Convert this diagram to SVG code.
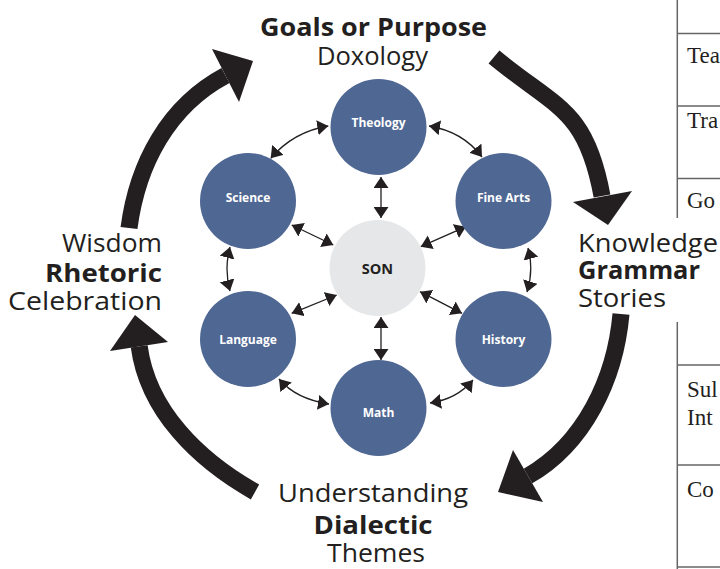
<svg xmlns="http://www.w3.org/2000/svg" width="720" height="569" viewBox="0 0 720 569">
<style>
.node{fill:#4f6793;}
.son{fill:#e6e7e8;}
.lbl{font-family:"Open Sans","Noto Sans",sans-serif;font-size:12px;font-weight:bold;fill:#ffffff;text-anchor:middle;}
.sonl{font-family:"Open Sans","Noto Sans",sans-serif;font-size:14.5px;font-weight:bold;fill:#231f20;text-anchor:middle;}
.conn{fill:none;stroke:#231f20;stroke-width:1.3;marker-start:url(#ah);marker-end:url(#ah);}
.big{fill:none;stroke:#231f20;stroke-width:17;}
.bighead{fill:#231f20;}
.t{font-family:"Open Sans","Noto Sans",sans-serif;font-size:25.5px;fill:#231f20;}
.b{font-weight:bold;}
.tab{stroke:#666666;stroke-width:1.5;fill:none;}
.tt{font-family:"Liberation Serif","Times New Roman",serif;font-size:23px;fill:#231f20;}
</style>
<defs>
<marker id="ah" viewBox="0 0 11 15" refX="11" refY="7.5" markerWidth="11" markerHeight="15" markerUnits="userSpaceOnUse" orient="auto-start-reverse">
<path d="M0,0 L11,7.5 L0,15 Z" fill="#231f20"/>
</marker>
</defs>
<rect width="720" height="569" fill="#ffffff"/>

<g id="table">
<path class="tab" d="M677.3,0 V218 M677.3,322 V569 M677.3,33.5 H720 M677.3,106 H720 M677.3,178.5 H720 M677.3,365 H720 M677.3,465 H720 M677.3,567 H720"/>
<text class="tt" x="687" y="63">Tea</text>
<text class="tt" x="687" y="128">Tra</text>
<text class="tt" x="687" y="208">Go</text>
<text class="tt" x="687" y="397">Sul</text>
<text class="tt" x="687" y="425">Int</text>
<text class="tt" x="687" y="497">Co</text>
</g>

<g id="cycle-arrows">
<path class="big" d="M494,57 C555.6,108.2 585.8,107.8 602,196"/>
<polygon class="bighead" points="573,202 632,191 608,225"/>
<path class="big" d="M621,314 C615.2,378.7 584.6,443.5 528,476"/>
<polygon class="bighead" points="513,450 543,502 498,492"/>
<path class="big" d="M255,492 C198.4,460.1 147.7,410.7 139.2,346.3"/>
<polygon class="bighead" points="110,351 168,342 135,315"/>
<path class="big" d="M129,228 C137.5,163.6 168.3,106.1 225.5,75.5"/>
<polygon class="bighead" points="212,49 239,102 253,61"/>
</g>

<g id="stage-labels">
<text class="t b" x="260" y="36" font-size="27" textLength="227" lengthAdjust="spacingAndGlyphs">Goals or Purpose</text>
<text class="t" x="317" y="65" textLength="111" lengthAdjust="spacingAndGlyphs">Doxology</text>
<text class="t" x="578" y="252" textLength="140" lengthAdjust="spacingAndGlyphs">Knowledge</text>
<text class="t b" x="578" y="279" textLength="122" lengthAdjust="spacingAndGlyphs">Grammar</text>
<text class="t" x="578" y="307" textLength="88" lengthAdjust="spacingAndGlyphs">Stories</text>
<text class="t" x="278" y="502" textLength="190" lengthAdjust="spacingAndGlyphs">Understanding</text>
<text class="t b" x="313.5" y="534" textLength="119" lengthAdjust="spacingAndGlyphs">Dialectic</text>
<text class="t" x="327" y="562" textLength="98" lengthAdjust="spacingAndGlyphs">Themes</text>
<text class="t" x="62" y="252" textLength="100" lengthAdjust="spacingAndGlyphs">Wisdom</text>
<text class="t b" x="45" y="281.5" textLength="117" lengthAdjust="spacingAndGlyphs">Rhetoric</text>
<text class="t" x="8" y="310" textLength="154" lengthAdjust="spacingAndGlyphs">Celebration</text>
</g>

<g id="connectors">
<path class="conn" d="M381,177 V218"/>
<path class="conn" d="M381,317 V360"/>
<path class="conn" d="M270.7,158.3 Q293.6,131.6 328.3,126"/>
<path class="conn" d="M429,126 Q463,131.6 482,157"/>
<path class="conn" d="M291.7,225 L333.3,245"/>
<path class="conn" d="M420.7,246.7 L466,226.7"/>
<path class="conn" d="M230,247 Q224,269 230,291"/>
<path class="conn" d="M528,248 Q534,270 527,292"/>
<path class="conn" d="M291.7,313.3 L336.7,295"/>
<path class="conn" d="M420,291.7 L462,313.3"/>
<path class="conn" d="M279,379 Q296,399 329,404"/>
<path class="conn" d="M430,403 Q457,399 473,380"/>
</g>

<g id="node-theology"><circle class="node" cx="378.5" cy="127" r="48"/><text class="lbl" x="378.5" y="127">Theology</text></g>
<g id="node-science"><circle class="node" cx="248" cy="201" r="48"/><text class="lbl" x="248" y="202">Science</text></g>
<g id="node-finearts"><circle class="node" cx="503.5" cy="201" r="48"/><text class="lbl" x="503.5" y="202">Fine Arts</text></g>
<g id="node-son"><circle class="son" cx="377.5" cy="268" r="48"/><text class="sonl" x="377.5" y="273.5">SON</text></g>
<g id="node-language"><circle class="node" cx="248" cy="339" r="48"/><text class="lbl" x="248" y="344">Language</text></g>
<g id="node-history"><circle class="node" cx="503.5" cy="339" r="48"/><text class="lbl" x="503.5" y="344">History</text></g>
<g id="node-math"><circle class="node" cx="378.5" cy="408" r="48"/><text class="lbl" x="378.5" y="416.5">Math</text></g>
</svg>
